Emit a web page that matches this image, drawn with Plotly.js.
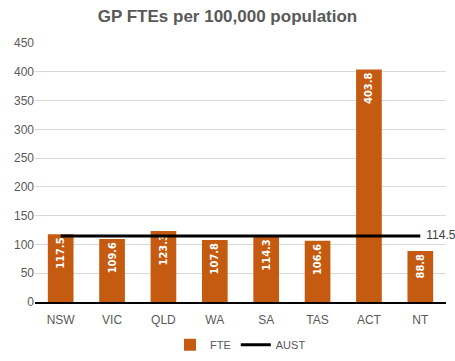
<!DOCTYPE html>
<html><head><meta charset="utf-8">
<script src="https://cdn.plot.ly/plotly-3.0.1.min.js"></script>
<style>body{margin:0;background:#fff}#c{width:455px;height:361px}</style>
</head><body><div id="c"></div>
<script>
const categories = ["NSW","VIC","QLD","WA","SA","TAS","ACT","NT"];
const fteValues = [117.5,109.6,123.3,107.8,114.3,106.6,403.8,88.8];
const austValue = 114.5;
const austValues = categories.map(() => austValue);
const yTicks = [0,50,100,150,200,250,300,350,400,450];

const gray = '#595959';
const bar = {
  type: 'bar', name: 'FTE', x: categories, y: fteValues,
  marker: {color: '#C55A11'}, width: 0.5,
  text: fteValues.map(v => v.toFixed(1)), textposition: 'inside',
  insidetextanchor: 'end', textangle: -90,
  insidetextfont: {family: 'Liberation Sans Narrow, DejaVu Sans Condensed, Arial', size: 11, color: '#ffffff', weight: 'bold'},
  hoverinfo: 'none'
};
const line = {
  type: 'scatter', mode: 'lines+text', name: 'AUST', x: categories, y: austValues,
  line: {color: '#000000', width: 3},
  text: austValues.map((v, i) => i === austValues.length - 1 ? '\u2002' + v.toFixed(1) : ''),
  textposition: 'middle right', cliponaxis: false,
  textfont: {family: 'Liberation Sans, Arial', size: 12, color: '#404040'},
  hoverinfo: 'none'
};
const layout = {
  width: 455, height: 361,
  margin: {l: 35, r: 9, t: 43, b: 59, autoexpand: false},
  paper_bgcolor: '#ffffff', plot_bgcolor: '#ffffff',
  title: {text: '<b>GP FTEs per 100,000 population</b>', x: 0.5, xanchor: 'center', y: 0.955, yanchor: 'middle',
    font: {family: 'Liberation Sans, Arial', size: 17, color: gray}},
  showlegend: true,
  legend: {orientation: 'h', x: 0.5, xanchor: 'center', yref: 'container', y: 0.045, yanchor: 'middle',
    font: {family: 'Liberation Sans, Arial', size: 11, color: gray}, traceorder: 'normal'},
  xaxis: {type: 'category', showgrid: false, showline: true, linecolor: '#000000', linewidth: 1.5,
    ticks: 'outside', ticklen: 6, tickcolor: 'rgba(0,0,0,0)',
    tickfont: {family: 'Liberation Sans, Arial', size: 12, color: gray}, fixedrange: true},
  yaxis: {range: [0, 450], tickvals: yTicks, ticktext: yTicks.map(String), showgrid: true, gridcolor: '#d9d9d9',
    zeroline: false, showline: false, ticks: '', ticklen: 0,
    tickfont: {family: 'Liberation Sans, Arial', size: 12, color: gray}, fixedrange: true},
  bargap: 0.5
};
Plotly.newPlot('c', [bar, line], layout, {staticPlot: true, displayModeBar: false});
</script>
</body></html>
